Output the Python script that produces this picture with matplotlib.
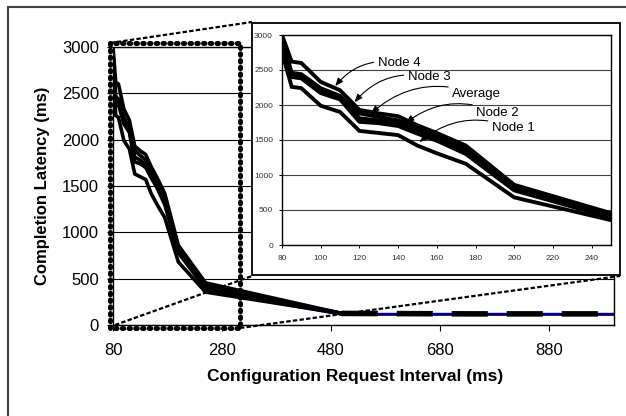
import numpy as np
import matplotlib
matplotlib.use("Agg")
import matplotlib.pyplot as plt
from matplotlib.lines import Line2D
from matplotlib.patches import Rectangle

plt.rcParams['font.family'] = ['Liberation Sans', 'DejaVu Sans']

# request interval (ms) and completion latency (ms) per node
interval = [80, 85, 90, 100, 110, 120, 130, 140, 150, 160, 175, 200, 250]
node1 = [2750, 2260, 2240, 1990, 1900, 1630, 1600, 1570, 1420, 1310, 1160, 680, 355]
node2 = [2850, 2400, 2380, 2170, 2080, 1760, 1740, 1700, 1590, 1490, 1300, 780, 390]
average = [2900, 2430, 2400, 2200, 2100, 1810, 1780, 1730, 1620, 1520, 1340, 800, 400]
node3 = [2950, 2460, 2440, 2240, 2130, 1880, 1830, 1780, 1670, 1560, 1390, 830, 430]
node4 = [3000, 2620, 2600, 2330, 2210, 1930, 1880, 1840, 1710, 1600, 1420, 860, 455]
series = {'Node 1': node1, 'Node 2': node2, 'Average': average,
          'Node 3': node3, 'Node 4': node4}

# longer intervals, only in the full chart
tail_interval = [500, 750, 1000]
tail_latency = [125, 120, 120]
tail_blue = [115, 115, 115]

x_ticks = [80, 280, 480, 680, 880]
y_ticks = [0, 500, 1000, 1500, 2000, 2500, 3000]
inset_x_ticks = list(range(80, 250, 20))

# annotation text spots (data coords of inset) and arrow targets
label_pos = {'Node 4': (129.5, 2600), 'Node 3': (145, 2400), 'Average': (168, 2157),
             'Node 2': (180.5, 1886), 'Node 1': (188.5, 1671)}
arrow_tip = {'Node 4': (107.5, 2270), 'Node 3': (117.5, 2040), 'Average': (126, 1880),
             'Node 2': (144, 1745), 'Node 1': (151, 1470)}

W, H = 626, 416
fig = plt.figure(figsize=(W / 100, H / 100), dpi=100)


def px(x, y):
    return x / W, 1 - y / H


# outer chart border (clipped at right/bottom like the source)
fig.add_artist(Line2D([8 / W, 1.0], [1 - 7 / H, 1 - 7 / H], color='#404040', lw=1.5,
                      transform=fig.transFigure))
fig.add_artist(Line2D([8 / W, 8 / W], [0, 1 - 7 / H], color='#404040', lw=1.5,
                      transform=fig.transFigure))

# main axes
l, b = px(113, 325)
r, t = px(614, 47)
ax = fig.add_axes([l, b, r - l, t - b])
ax.set_zorder(0)
ax.set_xlim(80, 1000)
ax.set_ylim(0, 3000)
ax.set_xticks(x_ticks)
ax.set_yticks(y_ticks)
ax.grid(axis='y', color='black', lw=0.8)
ax.set_axisbelow(True)
for s in ax.spines.values():
    s.set_color('black')
    s.set_linewidth(1)
ax.tick_params(direction='out', length=4, width=0.8, labelsize=12, colors='black')
ax.tick_params(axis='y', pad=6)
ax.tick_params(axis='x', pad=9)

ax.plot([250] + tail_interval[:1], [380, 118], color='#008080', lw=2, zorder=2)
ax.plot([250] + tail_interval, [370] + tail_blue, color='#000080', lw=2.2, zorder=2)
for name, vals in series.items():
    ax.plot(interval + tail_interval[:1], vals + tail_latency[:1], color='black', lw=2.6,
            solid_joinstyle='miter', zorder=3)
ax.plot(tail_interval, tail_latency, color='black', lw=4, dashes=(6.5, 3.4), zorder=3)

fig.text(43 / W, 1 - 186 / H, 'Completion Latency (ms)', rotation=90, ha='center',
         va='center', fontsize=12, fontweight='bold')
fig.text(355 / W, 1 - 377 / H, 'Configuration Request Interval (ms)', ha='center',
         va='center', fontsize=12.5, fontweight='bold')

# dotted zoom rectangle
dots = dict(color='black', lw=3.6, linestyle=(0, (0.3, 1.05)), dash_capstyle='round',
            transform=fig.transFigure, zorder=1)
x0, y0 = px(110, 328)
x1, y1 = px(240, 43)
fig.add_artist(Line2D([x0, x0, x1, x1, x0], [y0, y1, y1, y0, y0], **dots))

# connector lines
dash = dict(color='black', lw=1.6, linestyle=(0, (2, 1)), transform=fig.transFigure,
            zorder=1)
for a, bb in [((110, 43), (252, 22)), ((115, 325), (252, 276)), ((240, 328), (620, 276))]:
    pa, pb = px(*a), px(*bb)
    fig.add_artist(Line2D([pa[0], pb[0]], [pa[1], pb[1]], **dash))

# inset frame
fx, fy = px(252, 275)
fig.add_artist(Rectangle((fx, fy), 368 / W, 252 / H, facecolor='white', edgecolor='black',
                         lw=1.3, transform=fig.transFigure, zorder=2))

# inset axes
l, b = px(282, 245)
r, t = px(611, 35)
axi = fig.add_axes([l, b, r - l, t - b])
axi.set_zorder(3)
axi.set_xlim(80, 250)
axi.set_ylim(0, 3000)
axi.set_xticks(inset_x_ticks)
axi.set_yticks(y_ticks)
axi.grid(axis='y', color='#404040', lw=0.8)
axi.set_axisbelow(True)
for s in axi.spines.values():
    s.set_color('black')
    s.set_linewidth(1)
axi.tick_params(direction='out', length=2.5, width=0.7, labelsize=6, labelcolor='#333333')
axi.tick_params(axis='y', pad=4)
axi.tick_params(axis='x', pad=5)

for name, vals in series.items():
    axi.plot(interval, vals, color='black', lw=2.8, solid_joinstyle='miter')

for name in series:
    axi.annotate(name, xy=arrow_tip[name], xytext=label_pos[name], fontsize=9.5,
                 ha='left', va='center',
                 arrowprops=dict(arrowstyle='-|>,head_length=0.5,head_width=0.2',
                                 connectionstyle='arc3,rad=0.3', color='black', lw=0.8,
                                 shrinkA=1, shrinkB=0))

fig.savefig('out.png', dpi=100)
